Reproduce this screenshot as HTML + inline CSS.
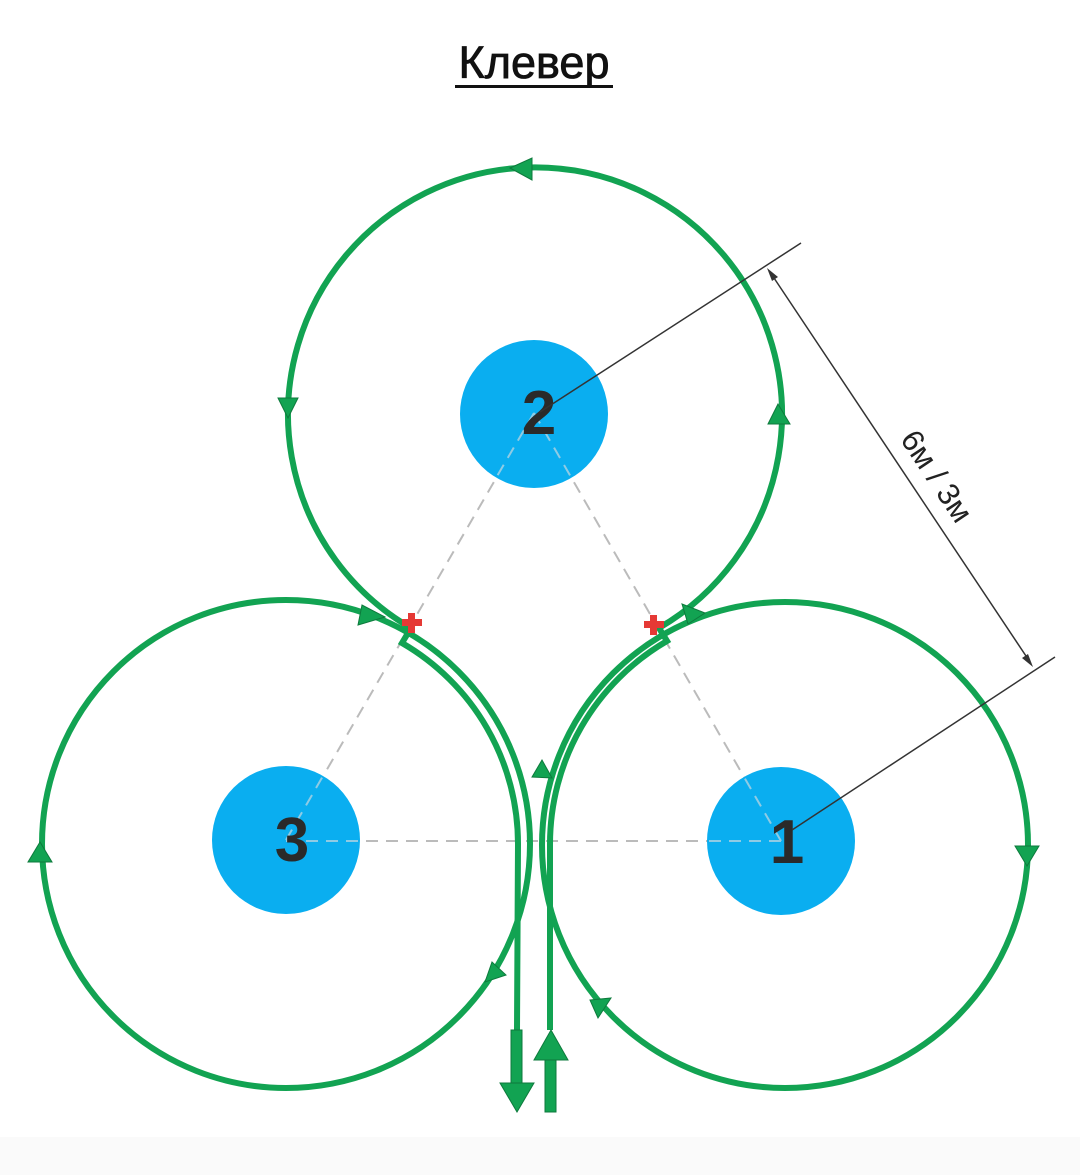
<!DOCTYPE html>
<html><head><meta charset="utf-8"><style>
html,body{margin:0;padding:0;background:#fff}
svg{display:block}
</style></head><body>
<svg width="1080" height="1175" viewBox="0 0 1080 1175" xmlns="http://www.w3.org/2000/svg">
<rect x="0" y="1137" width="1080" height="38" fill="#fafafa"/>
<text x="534" y="78" font-family="Liberation Sans, sans-serif" font-size="45" text-anchor="middle" fill="#111" stroke="#111" stroke-width="0.8">Клевер</text>
<rect x="455" y="85" width="158" height="3" fill="#111"/>

<g stroke="#bbb" stroke-width="2" stroke-dasharray="12,8" fill="none">
<line x1="534" y1="413" x2="286" y2="840"/>
<line x1="534" y1="413" x2="781" y2="841"/>
<line x1="286" y1="841" x2="781" y2="841"/>
</g>

<circle cx="534" cy="414" r="74" fill="#0aaef0"/>
<circle cx="286" cy="840" r="74" fill="#0aaef0"/>
<circle cx="781" cy="841" r="74" fill="#0aaef0"/>
<g stroke="#c8d8e0" stroke-width="2" stroke-dasharray="12,8" fill="none" opacity="0.7">
<line x1="534" y1="413" x2="496" y2="478"/>
<line x1="534" y1="413" x2="571" y2="477"/>
<line x1="286" y1="840" x2="323" y2="776"/>
<line x1="286" y1="841" x2="360" y2="841"/>
<line x1="781" y1="841" x2="707" y2="841"/>
<line x1="781" y1="841" x2="744" y2="777"/>
</g>
<g font-family="Liberation Sans, sans-serif" font-weight="bold" font-size="62" fill="#2a2a2a" text-anchor="middle">
<text x="539" y="434">2</text>
<text x="292" y="861">3</text>
<text x="787" y="863">1</text>
</g>

<g stroke="#12a352" stroke-width="6" fill="none">
<circle cx="286" cy="844" r="244"/>
<circle cx="785" cy="845" r="243"/>
<path d="M550 1030 L550 844 A235 235 0 0 1 667 641 L659 628 A247 247 0 1 0 411 628 L402 643 A232 232 0 0 1 518 844 L517 1030"/>
</g>

<g fill="#12a352" stroke="#0d7a3c" stroke-width="1">
<polygon points="510,168 532,158 532,180"/>
<polygon points="288,418 278,398 298,398"/>
<polygon points="778,404 768,424 790,424"/>
<polygon points="385,617 362,605 358,625"/>
<polygon points="40,842 28,862 52,862"/>
<polygon points="485,982 492,962 506,975"/>
<polygon points="1027,866 1015,846 1039,846"/>
<polygon points="590,1000 611,998 598,1018"/>
<polygon points="705,613 682,604 688,624"/>
<polygon points="542,760 532,777 552,778"/>
</g>

<g fill="#12a352" stroke="#0d7a3c" stroke-width="1">
<rect x="511" y="1030" width="11" height="53"/>
<polygon points="500,1083 534,1083 517,1112"/>
<polygon points="551,1030 534,1060 568,1060"/>
<rect x="545" y="1060" width="11" height="52"/>
</g>

<g fill="#e53935">
<rect x="402" y="619" width="20" height="7"/><rect x="408" y="613" width="7" height="20"/>
<rect x="644" y="621" width="20" height="7"/><rect x="650" y="615" width="7" height="20"/>
</g>

<g stroke="#333" stroke-width="1.5" fill="none">
<line x1="540" y1="412" x2="801" y2="243"/>
<line x1="792" y1="830" x2="1055" y2="657"/>
<line x1="770" y1="272" x2="1030" y2="662"/>
</g>
<polygon points="767,268 778,277 772,281" fill="#333"/>
<polygon points="1033,667 1022,658 1028,654" fill="#333"/>
<text x="0" y="0" transform="translate(928,482) rotate(56.3)" font-family="Liberation Sans, sans-serif" font-size="31" fill="#222" text-anchor="middle">6м / 3м</text>
</svg>
</body></html>
